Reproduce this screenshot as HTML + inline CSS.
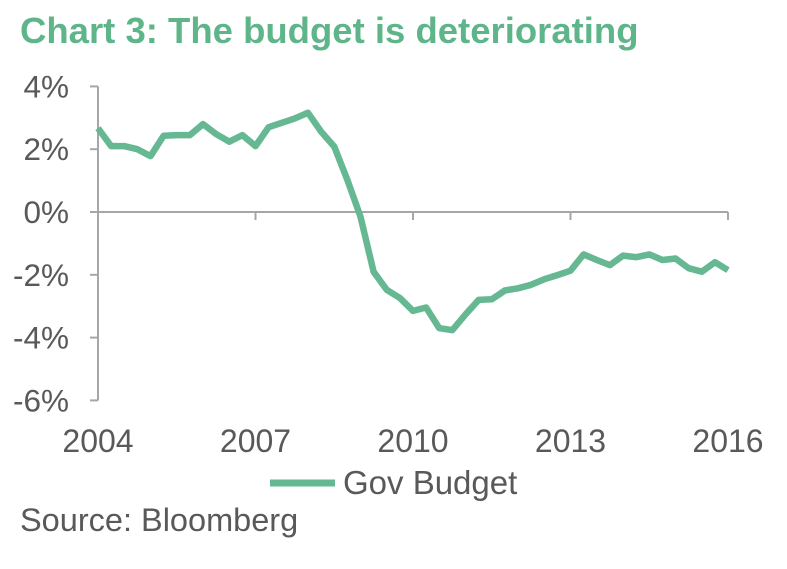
<!DOCTYPE html>
<html><head><meta charset="utf-8"><style>
body{margin:0;background:#fff;width:787px;height:564px;overflow:hidden;font-family:"Liberation Sans",Arial,sans-serif}
</style></head><body>
<svg width="787" height="564">
<text x="20" y="43" font-size="36.5" font-weight="bold" fill="#5fb58a">Chart 3: The budget is deteriorating</text>
<g id="axes"></g>
<g id="series"></g>
<g>
<line x1="270" y1="483" x2="335" y2="483" stroke="#66b892" stroke-width="7"/>
<text x="343" y="494" font-size="33" fill="#595959">Gov Budget</text>
</g>
<text x="20" y="531" font-size="32.5" fill="#595959">Source: Bloomberg</text>
</svg>
<script>
const values=[2.67,2.10,2.10,2.0,1.78,2.43,2.45,2.45,2.80,2.48,2.24,2.45,2.10,2.70,2.84,2.98,3.16,2.56,2.08,1.02,-0.15,-1.90,-2.48,-2.74,-3.15,-3.04,-3.70,-3.76,-3.26,-2.80,-2.78,-2.50,-2.43,-2.32,-2.14,-2.01,-1.87,-1.35,-1.53,-1.69,-1.39,-1.44,-1.35,-1.53,-1.48,-1.79,-1.90,-1.60,-1.85];
const startYear=2004;
const yTicks=[4,2,0,-2,-4,-6];
const xTicks=[2004,2007,2010,2013,2016];
const NS="http://www.w3.org/2000/svg";
function X(t){return 98+(t-2004)*52.5;}
function Y(v){return 212-v*31.4;}
const ax=document.getElementById('axes');
function mk(tag,attrs,parent){const e=document.createElementNS(NS,tag);for(const k in attrs)e.setAttribute(k,attrs[k]);parent.appendChild(e);return e;}
let e=mk('line',{x1:98,y1:Y(4),x2:98,y2:Y(-6),stroke:'#a6a6a6','stroke-width':2},ax);


e=mk('line',{x1:98,y1:Y(0),x2:X(2016),y2:Y(0),stroke:'#a6a6a6','stroke-width':2},ax);


yTicks.forEach(v=>{
 const t=mk('line',{x1:90,y1:Y(v),x2:98,y2:Y(v),stroke:'#a6a6a6','stroke-width':2},ax);
 
 
 const l=mk('text',{x:69,y:Y(v)+11,'font-size':31.5,fill:'#595959','text-anchor':'end'},ax);
 l.textContent=v+'%';
 
 
});
xTicks.forEach(v=>{
 const t=mk('line',{x1:X(v),y1:Y(0),x2:X(v),y2:Y(0)+8,stroke:'#a6a6a6','stroke-width':2},ax);
 
 
 const l=mk('text',{x:X(v),y:452,'font-size':32,fill:'#595959','text-anchor':'middle'},ax);
 l.textContent=v;
 
 
});
const pts=values.map((v,i)=>X(startYear+i/4).toFixed(1)+','+Y(v).toFixed(1)).join(' ');
const pl=mk('polyline',{points:pts,fill:'none',stroke:'#66b892','stroke-width':6.5,'stroke-linejoin':'round'},document.getElementById('series'));


</script>
</body></html>
